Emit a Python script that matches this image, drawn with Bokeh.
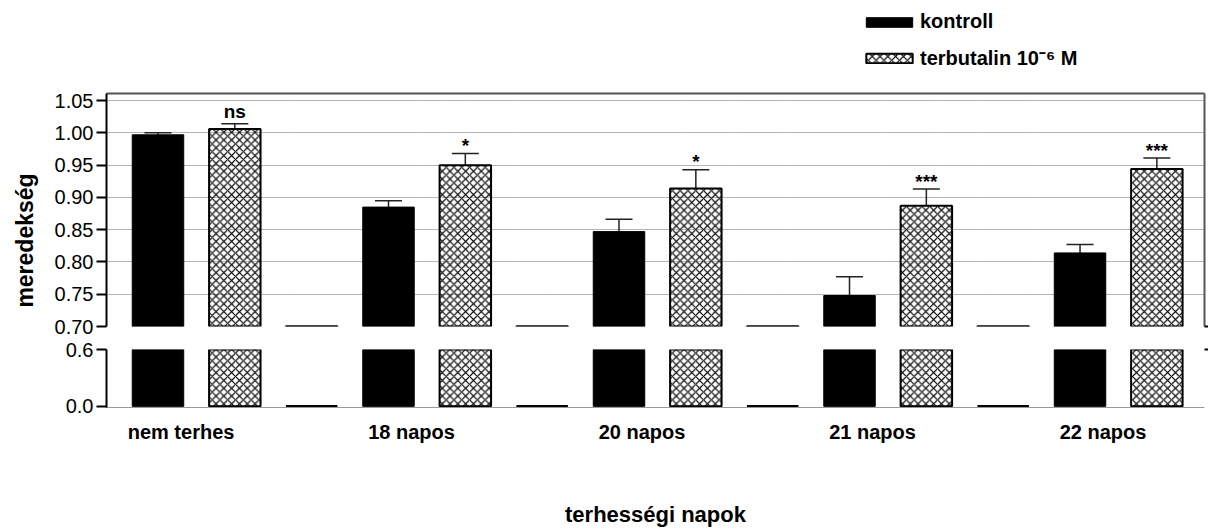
import math
from bokeh.plotting import figure
from bokeh.layouts import column, row
from bokeh.models import (Range1d, FixedTicker, LinearAxis, Grid, Legend, LegendItem,
                          Whisker, TeeHead, Label, NumeralTickFormatter, ColumnDataSource)
from bokeh.core.properties import value
from bokeh.embed import file_html
from bokeh.resources import INLINE

FONT = "Liberation Sans"

# ---------------- data ----------------
groups = ["nem terhes", "18 napos", "20 napos", "21 napos", "22 napos"]
kontroll = [0.997, 0.885, 0.847, 0.748, 0.814]
kontroll_err = [0.003, 0.010, 0.019, 0.029, 0.013]
terbutalin = [1.006, 0.950, 0.914, 0.887, 0.944]
terbutalin_err = [0.008, 0.018, 0.029, 0.026, 0.017]
significance = ["ns", "*", "*", "***", "***"]
spacer = [0.0, 0.0, 0.0, 0.0]
top_ticks = [0.70, 0.75, 0.80, 0.85, 0.90, 0.95, 1.00, 1.05]
bottom_ticks = [0.0, 0.6]
series_labels = ["kontroll", "terbutalin 10\u207b\u2076 M"]
x_title = "terhességi napok"
y_title = "meredekség"

# ---------------- positions (slots) ----------------
n = len(groups)
kontroll_x = [3 * i for i in range(n)]
terbutalin_x = [3 * i + 1 for i in range(n)]
spacer_x = [3 * i + 2 for i in range(len(spacer))]
label_x = [3 * i + 0.3 for i in range(n)]

src_k = ColumnDataSource(dict(x=kontroll_x, top=kontroll,
                              upper=[v + e for v, e in zip(kontroll, kontroll_err)]))
src_t = ColumnDataSource(dict(x=terbutalin_x, top=terbutalin,
                              upper=[v + e for v, e in zip(terbutalin, terbutalin_err)]))
src_s = ColumnDataSource(dict(x=spacer_x, top=spacer))

ns_idx = [i for i, s in enumerate(significance) if s == "ns"]
st_idx = [i for i, s in enumerate(significance) if s != "ns"]
src_ns = ColumnDataSource(dict(x=[terbutalin_x[i] for i in ns_idx],
                               y=[terbutalin[i] + terbutalin_err[i] for i in ns_idx],
                               t=[significance[i] for i in ns_idx]))
src_st = ColumnDataSource(dict(x=[terbutalin_x[i] for i in st_idx],
                               y=[terbutalin[i] + terbutalin_err[i] for i in st_idx],
                               t=[significance[i] for i in st_idx]))

BAR_W = 0.67
x_range = Range1d(-0.67, 13.62)
GRID_COLOR = "#6a6a6a"
KONTROLL_STYLE = dict(fill_color="black", line_color="black", line_width=1)
TERB_STYLE = dict(fill_color=None, line_color="black", line_width=2, hatch_pattern="x",
                  hatch_color="black", hatch_scale=7.8, hatch_weight=1.2)
TITLE_W = 40
PLOT_W = 1168


def plain(width, height, x_rng, y_rng):
    p = figure(width=width, height=height, x_range=x_rng, y_range=y_rng,
               x_axis_location=None, y_axis_location=None, output_backend="svg",
               toolbar_location=None, min_border=0, outline_line_color=None)
    p.center = [r for r in p.center if not isinstance(r, Grid)]
    return p


def base(frame_height, y_range, border_top, border_bottom):
    p = figure(width=PLOT_W, height=border_top + frame_height + border_bottom,
               x_range=x_range, y_range=y_range,
               x_axis_location=None, y_axis_location=None, output_backend="svg",
               toolbar_location=None, min_border_left=66, min_border_right=4,
               min_border_top=border_top, min_border_bottom=border_bottom,
               outline_line_color=None, background_fill_color="white",
               border_fill_color="white")
    p.center = [r for r in p.center if not isinstance(r, Grid)]
    return p


def draw_bars(p):
    rk = p.vbar(x="x", top="top", bottom=0, width=BAR_W, source=src_k, **KONTROLL_STYLE)
    rt = p.vbar(x="x", top="top", bottom=0, width=BAR_W, source=src_t, **TERB_STYLE)
    p.vbar(x="x", top="top", bottom=0, width=BAR_W, source=src_s,
           fill_color="black", line_color="black", line_width=2.5)
    return rk, rt


def left_axis(ticks, fmt):
    return LinearAxis(ticker=FixedTicker(ticks=ticks), formatter=NumeralTickFormatter(format=fmt),
                      axis_line_width=2, axis_line_color="black",
                      major_tick_out=10, major_tick_in=0, major_tick_line_width=2,
                      major_tick_line_color="black", major_label_standoff=3,
                      major_label_text_font=FONT, major_label_text_font_size="20px",
                      major_label_text_color="black")


def right_axis(ticks, line_color):
    return LinearAxis(ticker=FixedTicker(ticks=ticks), axis_line_color=line_color,
                      axis_line_width=2, major_tick_out=4, major_tick_in=0,
                      major_tick_line_width=2, major_tick_line_color="black",
                      major_label_text_font_size="0px", major_label_standoff=0)


# ---------------- y title strip ----------------
ytitle = plain(TITLE_W, 529, Range1d(0, 1), Range1d(0, 1))
ytitle.add_layout(Label(x=24, y=289, x_units="screen", y_units="screen", text=y_title,
                        angle=math.pi / 2, text_align="center", text_baseline="middle",
                        text_font=FONT, text_font_size="23px", text_font_style="bold",
                        text_color="black"))

# ---------------- legend strip (zero-size series bars, outside its range) ----------------
leg = plain(PLOT_W, 81, x_range, Range1d(10, 11))
lk = leg.vbar(x="x", top="top", bottom="top", width=0, source=src_k, **KONTROLL_STYLE)
lt = leg.vbar(x="x", top="top", bottom="top", width=0, source=src_t, **TERB_STYLE)
legend = Legend(items=[LegendItem(label=series_labels[0], renderers=[lk]),
                       LegendItem(label=series_labels[1], renderers=[lt])],
                location=(754, 10), orientation="vertical", padding=0, margin=0, spacing=11,
                glyph_width=58, glyph_height=12, label_height=20, label_standoff=2,
                label_text_font=FONT, label_text_font_size="20px", label_text_font_style="bold",
                label_text_color="black", border_line_color=None, background_fill_alpha=0)
leg.add_layout(legend)

# ---------------- upper segment ----------------
top = base(233, Range1d(0.70, 1.061), 12, 11)
top.add_layout(Grid(dimension=1, ticker=FixedTicker(ticks=top_ticks), grid_line_color=GRID_COLOR,
                    grid_line_dash="1 1", grid_line_width=1))
for src in (src_k, src_t):
    top.add_layout(Whisker(base="x", upper="upper", lower="top", source=src, dimension="height",
                           line_color="#222222", line_width=1.5,
                           upper_head=TeeHead(size=27, line_color="#222222", line_width=1.5),
                           lower_head=None))
draw_bars(top)
top.text(x="x", y="y", text="t", source=src_ns, text_align="center", text_baseline="alphabetic",
         y_offset=-12, text_font=value(FONT), text_font_size="19px", text_font_style="bold",
         text_color="black")
top.text(x="x", y="y", text="t", source=src_st, text_align="center", text_baseline="alphabetic",
         y_offset=-8, text_font=value(FONT), text_font_size="19px", text_font_style="bold",
         text_color="black")

top.add_layout(left_axis(top_ticks, "0.00"), "left")
top.add_layout(right_axis([top_ticks[0]], "#555555"), "right")
top.add_layout(LinearAxis(ticker=FixedTicker(ticks=[]), axis_line_color="#555555", axis_line_width=2,
                          major_tick_out=0, major_tick_in=0, major_label_text_font_size="0px",
                          major_label_standoff=0), "above")

# ---------------- lower segment ----------------
bot = base(62, Range1d(-0.012, 0.6), 12, 118)
bot.add_layout(Grid(dimension=1, ticker=FixedTicker(ticks=[bottom_ticks[1]]), grid_line_color=GRID_COLOR,
                    grid_line_dash="1 1", grid_line_width=1))
draw_bars(bot)
bot.add_layout(left_axis(bottom_ticks, "0.0"), "left")
bot.add_layout(right_axis([bottom_ticks[1]], None), "right")
bot.add_layout(LinearAxis(ticker=FixedTicker(ticks=label_x),
                          major_label_overrides={x: g for x, g in zip(label_x, groups)},
                          axis_line_color="#999999", axis_line_width=1,
                          major_tick_out=0, major_tick_in=0, major_label_standoff=13,
                          major_label_text_font=FONT, major_label_text_font_size="20px",
                          major_label_text_font_style="bold", major_label_text_color="black",
                          axis_label=x_title, axis_label_standoff=56,
                          axis_label_text_font=FONT, axis_label_text_font_size="22px",
                          axis_label_text_font_style="bold", axis_label_text_color="black"),
               "below")

layout = row(ytitle, column(leg, top, bot, spacing=0), spacing=0)
open("out.html", "w").write(file_html(layout, INLINE))
